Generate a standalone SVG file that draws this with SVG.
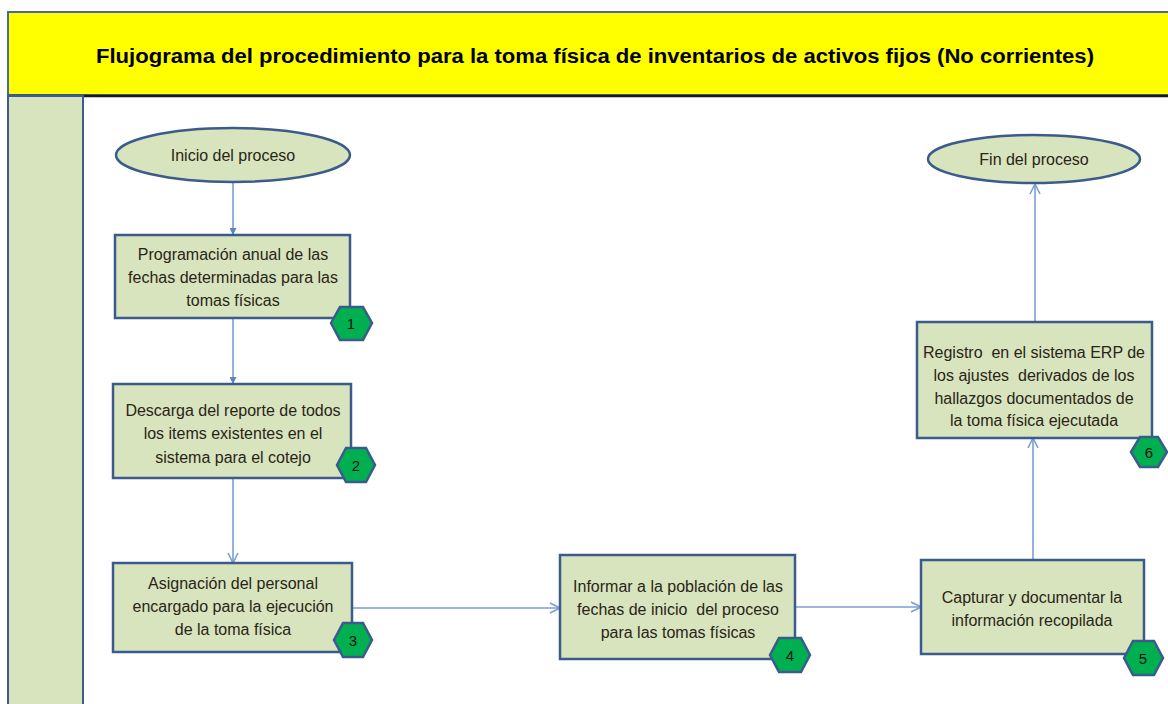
<svg xmlns="http://www.w3.org/2000/svg" width="1168" height="704" viewBox="0 0 1168 704">
<style>
.box{fill:#d7e4bd;stroke:#3a5b8c;stroke-width:2.5}
.hex{fill:#00b050;stroke:#3a5b8c;stroke-width:2.5}
.t{font-family:"Liberation Sans",Arial,sans-serif;font-size:16px;fill:#2a2418;text-anchor:middle;white-space:pre}
.n{font-family:"Liberation Sans",Arial,sans-serif;font-size:15px;fill:#111;text-anchor:middle}
.c{fill:none;stroke:#7b9fd4;stroke-width:1.6}
</style>
<defs>
<marker id="tri" viewBox="0 0 10 10" refX="10" refY="5" markerWidth="7" markerHeight="7" markerUnits="userSpaceOnUse" orient="auto">
<path d="M0,0 L10,5 L0,10 z" fill="#5b83c0"/>
</marker>
<marker id="vee" viewBox="0 0 12 12" refX="11" refY="6" markerWidth="12" markerHeight="12" markerUnits="userSpaceOnUse" orient="auto">
<path d="M1,1 L11,6 L1,11" fill="none" stroke="#7b9fd4" stroke-width="1.6"/>
</marker>
</defs>
<rect width="1168" height="704" fill="#ffffff"/>
<g id="header">
<rect x="8" y="12" width="1170" height="83" fill="#ffff00" stroke="#4a6a9a" stroke-width="2"/>
<line x1="8" y1="96" x2="1168" y2="96" stroke="#1a1a1a" stroke-width="2.5"/>
<text x="595" y="63" font-family="'Liberation Sans',Arial,sans-serif" font-size="20" font-weight="bold" fill="#000" text-anchor="middle" textLength="998" lengthAdjust="spacingAndGlyphs">Flujograma del procedimiento para la toma física de inventarios de activos fijos (No corrientes)</text>
</g>
<g id="lane">
<rect x="8" y="96" width="75" height="620" fill="#d7e4bd" stroke="#3a5b8c" stroke-width="2"/>
</g>
<g id="connectors">
<line class="c" x1="233" y1="183" x2="233" y2="235" marker-end="url(#tri)"/>
<line class="c" x1="233" y1="318" x2="233" y2="384" marker-end="url(#tri)"/>
<line class="c" x1="233" y1="478" x2="233" y2="563" marker-end="url(#vee)"/>
<line class="c" x1="352" y1="608" x2="560" y2="608" marker-end="url(#vee)"/>
<line class="c" x1="795" y1="607" x2="921" y2="607" marker-end="url(#vee)"/>
<line class="c" x1="1033" y1="560" x2="1033" y2="438" marker-end="url(#vee)"/>
<line class="c" x1="1035" y1="322" x2="1035" y2="184" marker-end="url(#vee)"/>
</g>
<g id="start">
<ellipse class="box" cx="233" cy="155" rx="117" ry="27"/>
<text class="t" x="233" y="161">Inicio del proceso</text>
</g>
<g id="step1">
<rect class="box" x="115" y="235" width="235" height="83"/>
<text class="t" x="233" y="260">Programación anual de las</text>
<text class="t" x="233" y="283">fechas determinadas para las</text>
<text class="t" x="233" y="306">tomas físicas</text>
<polygon class="hex" points="331,323 340,307 363,307 372,323 363,340 340,340"/>
<text class="n" x="351" y="329">1</text>
</g>
<g id="step2">
<rect class="box" x="113" y="384" width="238" height="94"/>
<text class="t" x="233" y="416">Descarga del reporte de todos</text>
<text class="t" x="233" y="439">los items existentes en el</text>
<text class="t" x="233" y="463">sistema para el cotejo</text>
<polygon class="hex" points="337,465 346,448 366,448 375,465 366,482 346,482"/>
<text class="n" x="356" y="471">2</text>
</g>
<g id="step3">
<rect class="box" x="113" y="563" width="239" height="89"/>
<text class="t" x="233" y="589">Asignación del personal</text>
<text class="t" x="233" y="612">encargado para la ejecución</text>
<text class="t" x="233" y="635">de la toma física</text>
<polygon class="hex" points="334,640 343,623 363,623 372,640 363,657 343,657"/>
<text class="n" x="353" y="646">3</text>
</g>
<g id="step4">
<rect class="box" x="560" y="555" width="235" height="104"/>
<text class="t" x="678" y="592">Informar a la población de las</text>
<text class="t" x="678" y="615">fechas de inicio  del proceso</text>
<text class="t" x="678" y="638">para las tomas físicas</text>
<polygon class="hex" points="770,655 779,638 801,638 810,655 801,672 779,672"/>
<text class="n" x="790" y="661">4</text>
</g>
<g id="step5">
<rect class="box" x="921" y="560" width="223" height="94"/>
<text class="t" x="1032" y="603">Capturar y documentar la</text>
<text class="t" x="1032" y="626">información recopilada</text>
<polygon class="hex" points="1124,658 1133,641 1154,641 1163,658 1154,675 1133,675"/>
<text class="n" x="1143" y="664">5</text>
</g>
<g id="step6">
<rect class="box" x="917" y="322" width="235" height="116"/>
<text class="t" x="1034" y="358">Registro  en el sistema ERP de</text>
<text class="t" x="1034" y="381">los ajustes  derivados de los</text>
<text class="t" x="1034" y="404">hallazgos documentados de</text>
<text class="t" x="1034" y="426">la toma física ejecutada</text>
<polygon class="hex" points="1131,452 1140,437 1158,437 1167,452 1158,467 1140,467"/>
<text class="n" x="1149" y="458">6</text>
</g>
<g id="end">
<ellipse class="box" cx="1034" cy="159" rx="106" ry="24"/>
<text class="t" x="1034" y="165">Fin del proceso</text>
</g>
</svg>
